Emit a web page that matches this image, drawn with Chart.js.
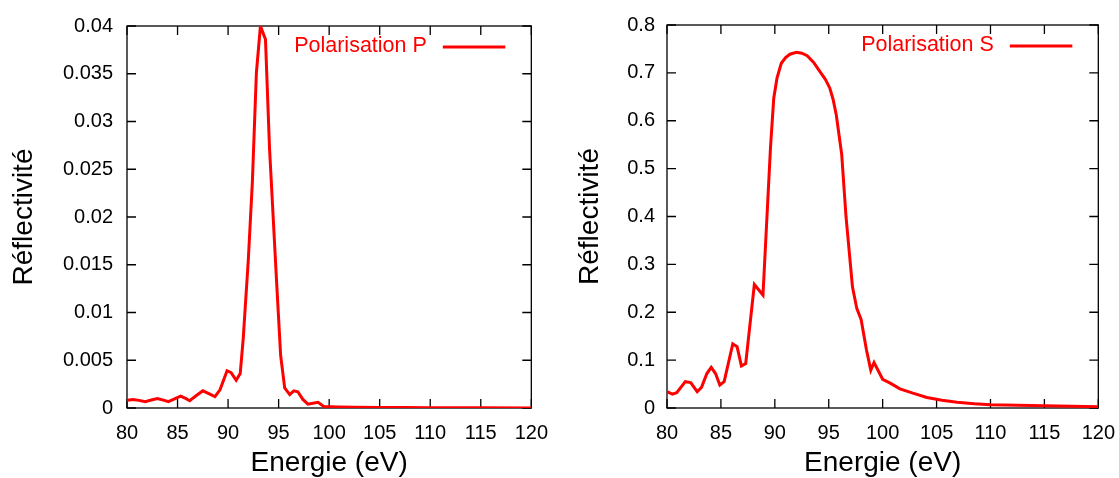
<!DOCTYPE html>
<html>
<head>
<meta charset="utf-8">
<script src="https://cdn.jsdelivr.net/npm/chart.js@4/dist/chart.umd.min.js"></script>
<style>
  body { margin: 0; background: #fff; width: 1119px; height: 478px; overflow: hidden; position: relative; }
  canvas { position: absolute; top: 0; }
  #chartP { left: 0; }
  #chartS { left: 560px; }
</style>
</head>
<body>
<canvas id="chartP" width="561" height="478"></canvas>
<canvas id="chartS" width="568" height="478"></canvas>
<script>
// data
const energyP = [80.0, 80.6, 81.2, 81.8, 82.4, 83.0, 83.6, 84.1, 84.7, 85.3, 85.8, 86.2, 86.8, 87.5, 88.1, 88.7, 89.2, 89.9, 90.3, 90.8, 91.2, 91.5, 92.0, 92.4, 92.8, 93.2, 93.7, 94.1, 94.8, 95.2, 95.6, 96.1, 96.5, 96.9, 97.4, 97.9, 98.4, 98.9, 99.5, 100.0, 101.0, 102.5, 105.0, 107.5, 110.0, 115.0, 120.0];
const reflP = [0.0008, 0.0009, 0.0008, 0.00066, 0.00083, 0.001, 0.00083, 0.00066, 0.00095, 0.00125, 0.001, 0.00076, 0.00125, 0.0018, 0.0015, 0.0012, 0.0019, 0.0039, 0.0037, 0.0029, 0.0036, 0.0073, 0.0155, 0.0236, 0.0351, 0.0400, 0.0386, 0.0272, 0.0132, 0.0055, 0.0021, 0.0014, 0.0018, 0.0017, 0.0009, 0.0004, 0.0005, 0.0006, 0.00014, 0.00012, 0.0001, 0.00008, 0.00006, 0.00004, 0.00003, 0.00002, 0.00001];

const energyS = [80.0, 80.5, 80.9, 81.7, 82.2, 82.8, 83.2, 83.7, 84.1, 84.5, 84.9, 85.3, 86.1, 86.5, 86.9, 87.3, 88.1, 88.9, 89.6, 89.9, 90.2, 90.6, 91.0, 91.4, 92.0, 92.5, 93.0, 93.6, 94.2, 94.7, 95.1, 95.4, 95.7, 96.2, 96.6, 97.2, 97.6, 98.0, 98.5, 98.9, 99.2, 100.0, 100.7, 101.6, 102.8, 104.1, 105.5, 106.9, 108.5, 110.0, 112.5, 115.0, 117.5, 120.0];
const reflS = [0.034, 0.029, 0.032, 0.055, 0.053, 0.034, 0.043, 0.072, 0.085, 0.072, 0.048, 0.055, 0.134, 0.128, 0.088, 0.093, 0.258, 0.236, 0.545, 0.647, 0.689, 0.72, 0.732, 0.739, 0.743, 0.741, 0.736, 0.722, 0.702, 0.686, 0.668, 0.645, 0.612, 0.53, 0.40, 0.253, 0.208, 0.185, 0.121, 0.079, 0.095, 0.060, 0.052, 0.040, 0.031, 0.022, 0.016, 0.012, 0.009, 0.007, 0.0055, 0.0045, 0.0035, 0.0027];

const xTicks = [80, 85, 90, 95, 100, 105, 110, 115, 120];
const xTickLabels = ['80', '85', '90', '95', '100', '105', '110', '115', '120'];
const yTicksP = [0, 0.005, 0.01, 0.015, 0.02, 0.025, 0.03, 0.035, 0.04];
const yTickLabelsP = ['0', '0.005', '0.01', '0.015', '0.02', '0.025', '0.03', '0.035', '0.04'];
const yTicksS = [0, 0.1, 0.2, 0.3, 0.4, 0.5, 0.6, 0.7, 0.8];
const yTickLabelsS = ['0', '0.1', '0.2', '0.3', '0.4', '0.5', '0.6', '0.7', '0.8'];

const FONT = '"Liberation Sans", Arial, sans-serif';

// gnuplot-like frame with ticks pointing inwards on all four sides
const framePlugin = {
    id: 'frame',
    beforeDatasetsDraw(chart) {
        const { ctx, chartArea: a, scales: { x, y } } = chart;
        const tl = 9;
        ctx.save();
        ctx.strokeStyle = '#000';
        ctx.lineWidth = 1.3;
        ctx.strokeRect(a.left, a.top, a.right - a.left, a.bottom - a.top);
        ctx.beginPath();
        x.ticks.forEach(t => {
            const px = x.getPixelForValue(t.value);
            ctx.moveTo(px, a.bottom); ctx.lineTo(px, a.bottom - tl);
            ctx.moveTo(px, a.top); ctx.lineTo(px, a.top + tl);
        });
        y.ticks.forEach(t => {
            const py = y.getPixelForValue(t.value);
            ctx.moveTo(a.left, py); ctx.lineTo(a.left + tl, py);
            ctx.moveTo(a.right, py); ctx.lineTo(a.right - tl, py);
        });
        ctx.stroke();
        ctx.restore();
    }
};

// key drawn inside the plot, top right
const keyPlugin = {
    id: 'key',
    afterDraw(chart) {
        const { ctx, chartArea: a } = chart;
        const ds = chart.data.datasets[0];
        const lineEnd = a.right - 26;
        const lineStart = lineEnd - 62.5;
        ctx.save();
        ctx.font = '21.5px ' + FONT;
        ctx.fillStyle = ds.borderColor;
        ctx.textAlign = 'right';
        ctx.textBaseline = 'middle';
        ctx.fillText(ds.label, lineStart - 16, a.top + 20);
        ctx.strokeStyle = ds.borderColor;
        ctx.lineWidth = 3;
        ctx.beginPath();
        ctx.moveTo(lineStart, a.top + 21);
        ctx.lineTo(lineEnd, a.top + 21);
        ctx.stroke();
        ctx.restore();
    }
};

function makeChart(id, label, xs, ys, yTicks, yLabels, yWidth, yLabelPad, yTitlePad) {
    return new Chart(document.getElementById(id), {
        type: 'scatter',
        data: {
            datasets: [{
                label: label,
                data: xs.map((e, i) => ({ x: e, y: ys[i] })),
                showLine: true,
                borderColor: '#ff0000',
                borderWidth: 3,
                pointRadius: 0,
                tension: 0
            }]
        },
        options: {
            responsive: false,
            animation: false,
            devicePixelRatio: 1,
            layout: { padding: { top: 25, right: 20, bottom: 0, left: 0 } },
            plugins: { legend: { display: false }, tooltip: { enabled: false } },
            scales: {
                x: {
                    type: 'linear',
                    min: 80, max: 120,
                    grid: { display: false, drawTicks: false },
                    border: { display: false },
                    afterBuildTicks: s => { s.ticks = xTicks.map(v => ({ value: v })); },
                    afterFit: s => { s.height = 70; },
                    ticks: {
                        padding: 13,
                        color: '#000',
                        font: { family: FONT, size: 20 },
                        maxRotation: 0,
                        callback: v => xTickLabels[xTicks.indexOf(v)]
                    },
                    title: {
                        display: true,
                        text: 'Energie (eV)',
                        color: '#000',
                        font: { family: FONT, size: 28, lineHeight: 1 },
                        padding: { top: 0, bottom: 1 }
                    }
                },
                y: {
                    type: 'linear',
                    min: yTicks[0], max: yTicks[yTicks.length - 1],
                    grid: { display: false, drawTicks: false },
                    border: { display: false },
                    afterBuildTicks: s => { s.ticks = yTicks.map(v => ({ value: v })); },
                    afterFit: s => { s.width = yWidth; },
                    ticks: {
                        padding: yLabelPad,
                        color: '#000',
                        font: { family: FONT, size: 20 },
                        callback: v => yLabels[yTicks.indexOf(v)]
                    },
                    title: {
                        display: true,
                        text: 'Réflectivité',
                        color: '#000',
                        font: { family: FONT, size: 28, lineHeight: 1 },
                        padding: { top: yTitlePad, bottom: 0 }
                    }
                }
            }
        },
        plugins: [framePlugin, keyPlugin]
    });
}

makeChart('chartP', 'Polarisation P', energyP, reflP, yTicksP, yTickLabelsP, 127, 14, 10);
makeChart('chartS', 'Polarisation S', energyS, reflS, yTicksS, yTickLabelsS, 107, 12, 16);
</script>
</body>
</html>
